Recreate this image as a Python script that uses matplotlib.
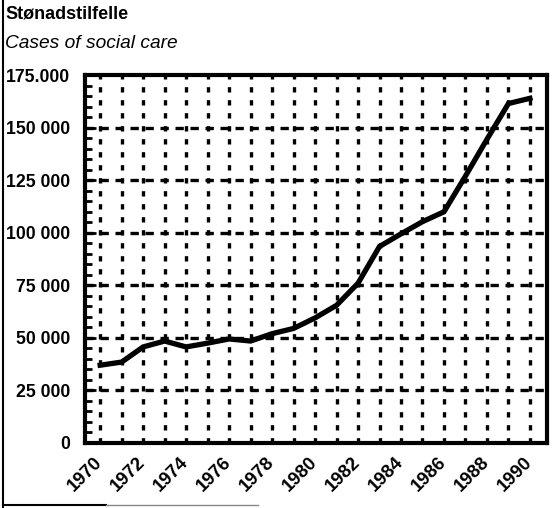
import matplotlib
matplotlib.use("Agg")
import matplotlib.pyplot as plt
from matplotlib.lines import Line2D
from matplotlib.ticker import MultipleLocator

plt.rcParams['font.family'] = ['Liberation Sans', 'DejaVu Sans']

# Data
years = list(range(1970, 1991))
cases = [37000, 38500, 45700, 48500, 45700, 47500, 49500, 48500, 52000, 54500,
         59500, 65500, 76000, 93500, 99500, 105300, 110000, 127000, 144500,
         161500, 164000]

y_ticks = [0, 25000, 50000, 75000, 100000, 125000, 150000, 175000]
y_labels = ['0', '25 000', '50 000', '75 000', '100 000', '125 000', '150 000', '175.000']
x_ticks = list(range(1970, 1991, 2))

title_no = 'Stønadstilfelle'
title_en = 'Cases of social care'

fig = plt.figure(figsize=(5.6, 5.08), dpi=100)
ax = fig.add_axes([0.152, 0.128, 0.825, 0.724])

# grid: vertical at each year, horizontal at each major y tick
for yr in years:
    ax.axvline(yr, color='black', lw=2.4, ls=(0, (1.6, 2.3)), zorder=1)
for yv in y_ticks[1:-1]:
    ax.axhline(yv, color='black', lw=2.4, ls=(0, (2.5, 2.0)), zorder=1)

ax.plot(years, cases, color='black', lw=3.8, solid_joinstyle='miter', zorder=3)

ax.set_xlim(1969.3, 1990.8)
ax.set_ylim(0, 175000)

ax.set_yticks(y_ticks)
ax.set_yticklabels(y_labels, fontweight='bold')
ax.yaxis.set_minor_locator(MultipleLocator(5000))
ax.tick_params(axis='y', which='major', direction='in', length=8, width=2,
               pad=11, labelsize=12.7)
ax.tick_params(axis='y', which='minor', direction='in', length=5, width=2)

ax.set_xticks(x_ticks)
ax.set_xticklabels([str(x) for x in x_ticks], rotation=45, ha='right',
                   va='center', rotation_mode='anchor', fontweight='bold')
ax.tick_params(axis='x', which='both', length=0, pad=12, labelsize=13.3)

for sp in ax.spines.values():
    sp.set_linewidth(3)

fig.text(0.009, 0.972, title_no, fontsize=13, fontweight='bold', va='center', ha='left')
fig.text(0.009, 0.915, title_en, fontsize=13.8, style='italic', va='center', ha='left')

# outer frame fragments from the scanned page
fig.add_artist(Line2D([0.006, 0.006], [0.0, 1.0], color='black', lw=1.5,
                      transform=fig.transFigure))
fig.add_artist(Line2D([0.006, 0.19], [0.006, 0.006], color='black', lw=1.5,
                      transform=fig.transFigure))
fig.add_artist(Line2D([0.19, 0.46], [0.006, 0.006], color='#888888', lw=1.0,
                      transform=fig.transFigure))

plt.savefig('out.png', dpi=100)
